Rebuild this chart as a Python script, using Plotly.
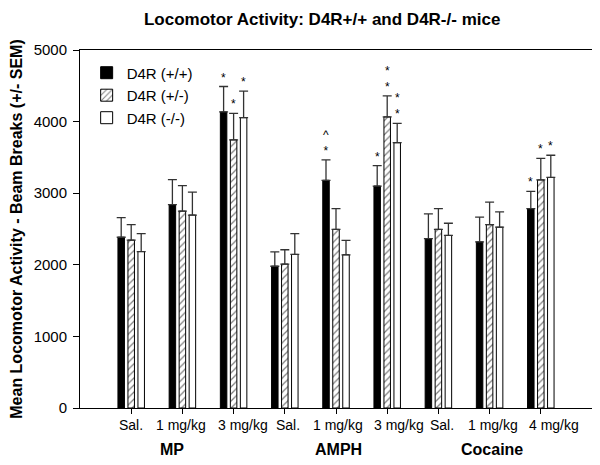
import plotly.graph_objects as go

# ---- data ----
positions = [1, 2, 3, 4, 5, 6, 7, 8, 9]
dose_labels = ["Sal.", "1 mg/kg", "3 mg/kg", "Sal.", "1 mg/kg", "3 mg/kg", "Sal.", "1 mg/kg", "4 mg/kg"]
drug_labels = ["MP", "AMPH", "Cocaine"]
drug_label_pos = [1.8, 5.05, 8.05]

wt_mean = [2385, 2840, 4135, 1980, 3180, 3100, 2365, 2320, 2785]
wt_sem = [275, 350, 355, 200, 285, 285, 345, 345, 240]
het_mean = [2345, 2750, 3745, 2010, 2495, 4065, 2495, 2560, 3185]
het_sem = [215, 355, 370, 200, 290, 295, 290, 315, 300]
ko_mean = [2185, 2695, 4055, 2145, 2140, 3705, 2410, 2525, 3220]
ko_sem = [250, 320, 370, 290, 200, 270, 170, 215, 310]

series_names = ["D4R (+/+)", "D4R (+/-)", "D4R (-/-)"]

# significance marks: (position index, series index, text)
marks = [
    (2, 0, "*"), (2, 1, "*"), (2, 2, "*"),
    (4, 0, "^<br>*"),
    (5, 0, "*"), (5, 1, "*<br>*"), (5, 2, "*<br>*"),
    (8, 0, "*"), (8, 1, "*"), (8, 2, "*"),
]

# horizontal nudges (px) of the dose labels, as in the reference layout
label_nudge = [0, -1, 9, 3, 2, 12, 4, 3, 13]

FONT = "Liberation Sans, Arial, sans-serif"
bargap = 0.414
slot = (1 - bargap) / 3

err_style = dict(type="data", symmetric=False, color="#333333", thickness=1.3, width=4.5)

fig = go.Figure()
means = [wt_mean, het_mean, ko_mean]
sems = [wt_sem, het_sem, ko_sem]
markers = [
    dict(color="black", line=dict(color="black", width=1)),
    dict(color="white", line=dict(color="black", width=1),
         pattern=dict(shape="/", fgcolor="black", bgcolor="white", size=5, solidity=0.25)),
    dict(color="white", line=dict(color="black", width=1)),
]
for i in range(3):
    fig.add_trace(go.Bar(
        x=positions, y=means[i], name=series_names[i], marker=markers[i],
        error_y=dict(array=sems[i], arrayminus=[0] * len(sems[i]), **err_style),
    ))

annotations = []
for gi, si, txt in marks:
    xv = positions[gi] + (si - 1) * slot
    yv = means[si][gi] + sems[si][gi]
    annotations.append(dict(x=xv, y=yv, xref="x", yref="y", text=txt, showarrow=False,
                            yanchor="bottom", yshift=0, font=dict(size=12, family=FONT, color="black")))
for xp, lab, nudge in zip(positions, dose_labels, label_nudge):
    annotations.append(dict(x=xp, y=-0.0475, xref="x", yref="paper", text=lab, showarrow=False,
                            yanchor="middle", xshift=nudge, font=dict(size=14, family=FONT, color="black")))
for lab, xp in zip(drug_labels, drug_label_pos):
    annotations.append(dict(x=xp, y=-0.0855, xref="x", yref="paper", text="<b>%s</b>" % lab,
                            showarrow=False, yanchor="top", font=dict(size=16, family=FONT, color="black")))

# page body has an 8px default margin, so the figure is sized to the remaining window
fig.update_layout(
    width=592, height=457,
    margin=dict(l=72, r=8, t=42, b=57),
    paper_bgcolor="white", plot_bgcolor="white",
    barmode="group", bargap=bargap, bargroupgap=0.35,
    font=dict(family=FONT, size=15, color="black"),
    title=dict(text="<b>Locomotor Activity: D4R+/+ and D4R-/- mice</b>", x=0.473, xref="paper",
               xanchor="center", y=0.976, yanchor="middle", font=dict(size=17, family=FONT)),
    xaxis=dict(range=[0, 10], tickvals=positions, showticklabels=False, ticks="outside",
               ticklen=5, tickcolor="black", showline=True, linecolor="black", linewidth=1,
               mirror=True, showgrid=False, zeroline=False, automargin=False),
    yaxis=dict(range=[0, 5000], tickvals=[0, 1000, 2000, 3000, 4000, 5000], ticks="outside",
               ticklen=6, tickcolor="black", showline=True, linecolor="black", linewidth=1,
               mirror=True, showgrid=False, zeroline=False, tickfont=dict(size=15),
               automargin=False, ticklabelstandoff=3,
               title=dict(text="<b>Mean Locomotor Activity - Beam Breaks (+/- SEM)</b>",
                          font=dict(size=16, family=FONT), standoff=16)),
    legend=dict(x=0.013, y=0.982, xanchor="left", yanchor="top", bgcolor="rgba(0,0,0,0)",
                font=dict(size=15, family=FONT), tracegroupgap=0, itemwidth=30),
    annotations=annotations,
    showlegend=True,
)

fig.write_html("out.html")
